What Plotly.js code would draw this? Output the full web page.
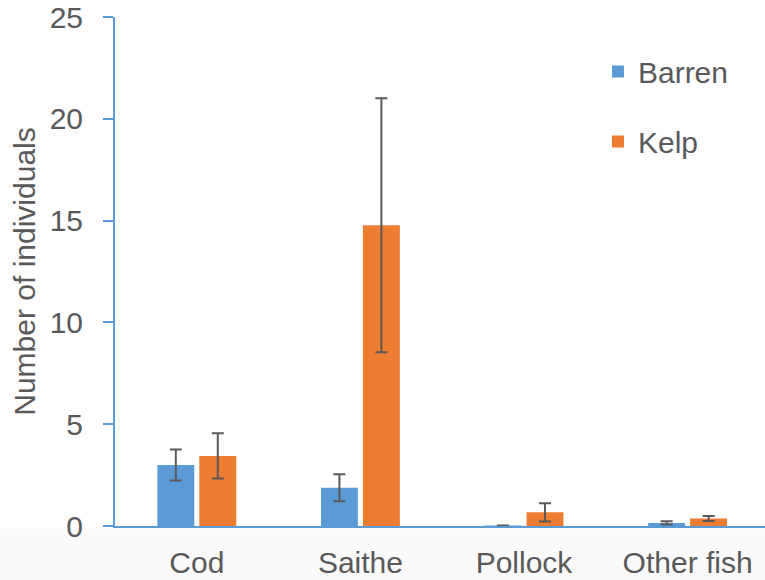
<!DOCTYPE html>
<html>
<head>
<meta charset="utf-8">
<script src="https://cdn.plot.ly/plotly-3.0.1.min.js"></script>
<style>
  html, body { margin: 0; padding: 0; background: #ffffff; }
  #chart { width: 765px; height: 580px; }
</style>
</head>
<body>
<div id="chart"></div>
<script>
// Fish counts per habitat: mean number of individuals and error (±)
const categories = ["Cod", "Saithe", "Pollock", "Other fish"];
const barrenMean = [3.0, 1.88, 0.02, 0.15];
const barrenErr  = [0.76, 0.66, 0.0, 0.08];
const kelpMean   = [3.44, 14.77, 0.67, 0.37];
const kelpErr    = [1.11, 6.24, 0.45, 0.12];
const yTicks     = [0, 5, 10, 15, 20, 25];

const textColor = "#595959";
const axisBlue = "#5B9BD5";
const font = "Liberation Sans, Arial, sans-serif";
const fontSize = 30;

function errStyle(vals) {
  return {
    type: "data", array: vals, visible: true,
    color: "#595959", thickness: 2, width: 6
  };
}

const traces = [
  {
    type: "bar", name: "Barren", x: categories, y: barrenMean,
    marker: { color: "#5B9BD5" }, error_y: errStyle(barrenErr),
    legendgroup: "a"
  },
  {
    type: "bar", name: "Kelp", x: categories, y: kelpMean,
    marker: { color: "#ED7D31" }, error_y: errStyle(kelpErr),
    legendgroup: "b"
  }
];

const layout = {
  width: 765, height: 580,
  margin: { l: 115, r: 0, t: 17, b: 54 },
  paper_bgcolor: "#ffffff", plot_bgcolor: "#ffffff",
  font: { family: font, size: fontSize, color: textColor },
  barmode: "group",
  bargap: 0.487,
  bargroupgap: 0.12,
  showlegend: true,
  legend: {
    x: 0.743, y: 0.944, xanchor: "left", yanchor: "top",
    bgcolor: "rgba(0,0,0,0)",
    font: { family: font, size: fontSize, color: textColor },
    traceorder: "grouped", tracegroupgap: 28
  },
  xaxis: {
    range: [-0.5, 3.473],
    showline: true, linecolor: axisBlue, linewidth: 2,
    showgrid: false, zeroline: false,
    ticks: "", ticklabelstandoff: 9,
    tickfont: { family: font, size: fontSize, color: textColor },
    fixedrange: true
  },
  yaxis: {
    range: [0, 25], tickvals: yTicks, ticktext: yTicks.map(String),
    showline: true, linecolor: axisBlue, linewidth: 2,
    ticks: "outside", ticklen: 10, tickcolor: axisBlue, tickwidth: 2,
    ticklabelstandoff: 14,
    showgrid: false, zeroline: false,
    tickfont: { family: font, size: fontSize, color: textColor },
    title: { text: "Number of individuals", font: { family: font, size: fontSize, color: textColor }, standoff: 5 },
    fixedrange: true
  },
  shapes: [
    {
      type: "rect", xref: "paper", yref: "paper",
      x0: -0.2, x1: 1.0, y0: -0.2, y1: -0.006,
      fillcolor: "#fafafa", line: { width: 0 }, layer: "below"
    }
  ]
};

Plotly.newPlot("chart", traces, layout, { displayModeBar: false, staticPlot: true });
</script>
</body>
</html>
